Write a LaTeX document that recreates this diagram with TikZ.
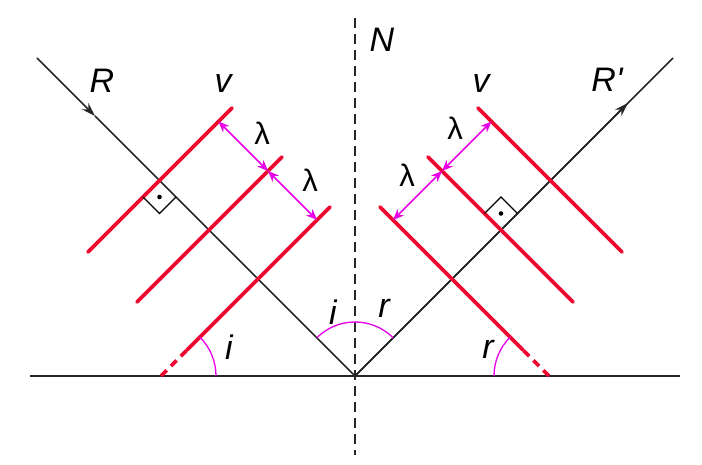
\documentclass[tikz,border=0pt]{standalone}
\usepackage{fontspec}
\setmainfont{Liberation Sans}
\usetikzlibrary{arrows.meta,calc}
\definecolor{wred}{RGB}{238,8,48}
\definecolor{wmag}{RGB}{232,0,232}
\begin{document}
\begin{tikzpicture}[x=1pt,y=1pt,
  ray/.style={line width=1.6pt, black!85},
  mirror/.style={line width=2.2pt, black!85},
  normal/.style={line width=2.2pt, black!85, dash pattern=on 10pt off 6pt},
  wave/.style={line width=3.6pt, wred, line cap=round},
  wavedash/.style={line width=3.6pt, wred, dash pattern=on 8pt off 6pt},
  lam/.style={line width=1.5pt, wmag, {Stealth[length=11pt,width=9pt]}-{Stealth[length=11pt,width=9pt]}},
  arcm/.style={line width=1.3pt, wmag},
  perp/.style={line width=1.4pt, black},
  tip/.style={-{Stealth[length=14pt,width=9pt]}},
  lbl/.style={font=\fontsize{34}{38}\selectfont\itshape, inner sep=0pt},
  lbll/.style={font=\fontsize{31}{35}\selectfont, inner sep=0pt},
]
\useasboundingbox (0,0) rectangle (702,464);
% key points
\coordinate (O) at (355,88);
\coordinate (ML) at (30,88);
\coordinate (MR) at (680,88);
\coordinate (NT) at (355,446);
\coordinate (NB) at (355,9);
\coordinate (RS) at (37,406);
\coordinate (RA) at (95,348);
\coordinate (QE) at (673,406);
\coordinate (QA) at (628,361);
% mirror and normal
\draw[mirror] (ML) -- (MR);
\draw[normal] (NT) -- (NB);
% rays
\draw[ray,tip] (RS) -- (RA);
\draw[ray] (RA) -- (O);
\draw[ray] (O) -- (QE);
\draw[ray,tip] (O) -- (QA);
% left wavefronts
\coordinate (L1a) at (88,212);  \coordinate (L1b) at (232,356);
\coordinate (L2a) at (137,162); \coordinate (L2b) at (282,307);
\coordinate (L3m) at (161,88);  \coordinate (L3a) at (187,114); \coordinate (L3b) at (330,257);
\draw[wave] (L1a) -- (L1b);
\draw[wave] (L2a) -- (L2b);
\draw[wave] (L3a) -- (L3b);
\draw[wavedash] (L3m) -- (L3a);
% right wavefronts
\coordinate (R1a) at (622,212); \coordinate (R1b) at (478,356);
\coordinate (R2a) at (573,162); \coordinate (R2b) at (428,307);
\coordinate (R3m) at (549,88);  \coordinate (R3a) at (523,114); \coordinate (R3b) at (380,257);
\draw[wave] (R1a) -- (R1b);
\draw[wave] (R2a) -- (R2b);
\draw[wave] (R3a) -- (R3b);
\draw[wavedash] (R3m) -- (R3a);
% lambda arrows
\coordinate (LA1) at (218.5,342.5); \coordinate (LA2) at (268,293); \coordinate (LA3) at (317,244);
\coordinate (RA1) at (491.5,342.5); \coordinate (RA2) at (442,293); \coordinate (RA3) at (393,244);
\draw[lam] (LA1) -- (LA2);
\draw[lam] (LA2) -- (LA3);
\draw[lam] (RA1) -- (RA2);
\draw[lam] (RA2) -- (RA3);
% right-angle marks
\coordinate (PLa) at (143,267); \coordinate (PLc) at (159.5,250.5); \coordinate (PLb) at (176,267);
\draw[perp] (PLa) -- (PLc) -- (PLb);
\fill (159.5,267) circle (2.3pt);
\coordinate (PRa) at (484.5,250.5); \coordinate (PRc) at (501,267); \coordinate (PRb) at (517.5,250.5);
\draw[perp] (PRa) -- (PRc) -- (PRb);
\fill (501,250.5) circle (2.3pt);
% angle arcs
\draw[arcm] (216,88) arc[start angle=0, end angle=45, radius=55];
\draw[arcm] (494,88) arc[start angle=180, end angle=135, radius=55];
\draw[arcm] ($(O)+(45:54)$) arc[start angle=45, end angle=135, radius=54];
% labels
\node[lbl] (tR) at (102,383) {R};
\node[lbl] (tv1) at (223,380) {v};
\node[lbll] (tl1) at (262,331) {λ};
\node[lbll] (tl2) at (310,284) {λ};
\node[lbl] (tN) at (382,424) {N};
\node[lbl] (tv2) at (481,380) {v};
\node[lbl] (tRp) at (607,384) {R\textquotesingle};
\node[lbll] (tl3) at (455,336) {λ};
\node[lbll] (tl4) at (407,289) {λ};
\node[lbl] (ti1) at (229,117) {i};
\node[lbl] (ti2) at (333,152) {i};
\node[lbl] (tr1) at (384,156) {r};
\node[lbl] (tr2) at (488,115) {r};
\end{tikzpicture}
\end{document}
